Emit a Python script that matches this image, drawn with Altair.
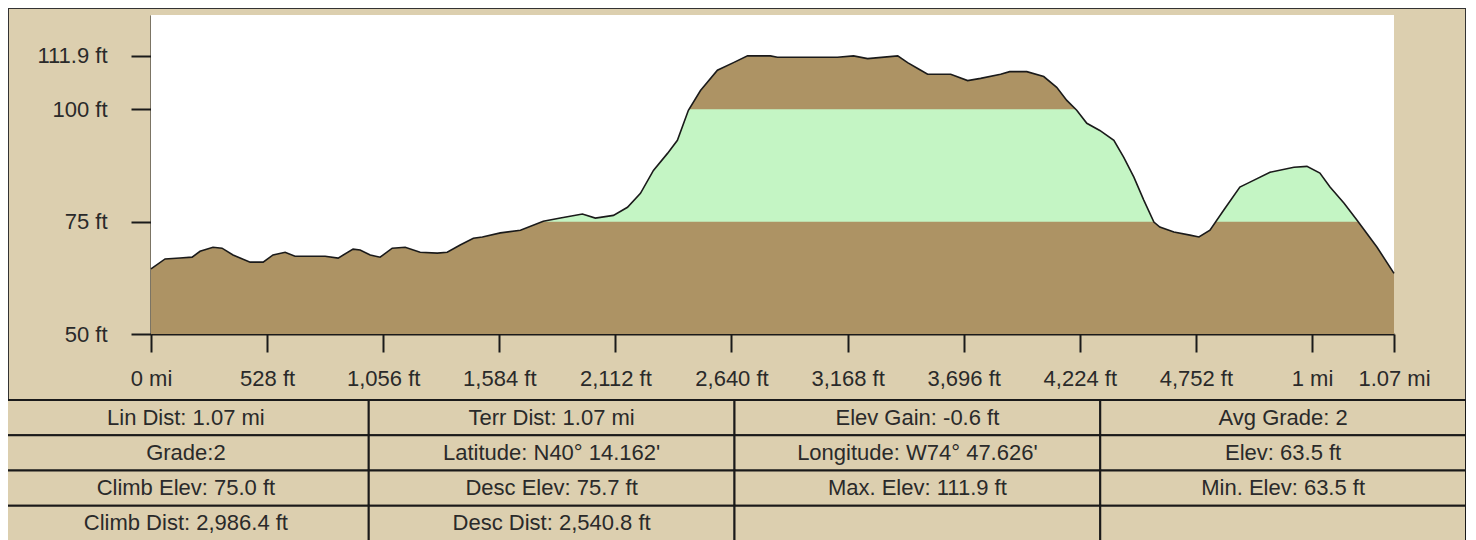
import altair as alt
import pandas as pd

# ---------------- data ----------------
DIST_FT = [0, 64, 132, 187, 223, 282, 323, 373, 451, 510, 555, 610, 655, 792, 851,
           919, 951, 997, 1042, 1097, 1156, 1224, 1302, 1347, 1406, 1466, 1507, 1589,
           1680, 1784, 1862, 1962, 2021, 2103, 2167, 2226, 2285, 2349, 2394, 2444, 2499,
           2576, 2649, 2713, 2817, 2849, 3122, 3195, 3259, 3396, 3441, 3487, 3532, 3637,
           3714, 3773, 3864, 3905, 3983, 4060, 4119, 4165, 4210, 4256, 4315, 4379, 4424,
           4470, 4515, 4561, 4588, 4652, 4725, 4766, 4816, 4879, 4952, 4998, 5089, 5198,
           5257, 5316, 5362, 5426, 5485, 5576, 5653]
ELEV_FT = [64.5, 66.7, 66.9, 67.1, 68.4, 69.3, 69.1, 67.6, 66.0, 66.0, 67.6, 68.2, 67.3,
           67.3, 66.9, 68.9, 68.7, 67.6, 67.1, 69.1, 69.3, 68.2, 68.0, 68.2, 69.8, 71.3,
           71.6, 72.5, 73.1, 75.1, 75.8, 76.7, 75.8, 76.4, 78.2, 81.3, 86.4, 90.2, 93.1,
           99.8, 104.2, 108.7, 110.4, 111.9, 111.9, 111.6, 111.6, 111.9, 111.3, 111.9,
           110.4, 109.1, 107.8, 107.8, 106.4, 106.9, 107.8, 108.4, 108.4, 107.3, 104.9,
           102.0, 99.8, 96.9, 95.3, 93.1, 89.3, 84.9, 79.8, 74.9, 73.8, 72.7, 72.0, 71.6,
           73.1, 77.6, 82.7, 83.8, 86.0, 87.1, 87.3, 85.8, 82.7, 79.1, 75.3, 69.3, 63.5]

X_TICKS = [0, 528, 1056, 1584, 2112, 2640, 3168, 3696, 4224, 4752, 5280, 5653]
X_LABELS = ["0 mi", "528 ft", "1,056 ft", "1,584 ft", "2,112 ft", "2,640 ft",
            "3,168 ft", "3,696 ft", "4,224 ft", "4,752 ft", "1 mi", "1.07 mi"]
Y_TICKS = [50, 75, 100, 111.9]
Y_LABELS = ["50 ft", "75 ft", "100 ft", "111.9 ft"]

Y_MIN, Y_TOP = 50, 121
BAND_LOW, BAND_HIGH = 75, 100

ROW_1 = ["Lin Dist: 1.07 mi", "Terr Dist: 1.07 mi", "Elev Gain: -0.6 ft", "Avg Grade: 2"]
ROW_2 = ["Grade:2", "Latitude: N40\u00b0 14.162'", "Longitude: W74\u00b0 47.626'", "Elev: 63.5 ft"]
ROW_3 = ["Climb Elev: 75.0 ft", "Desc Elev: 75.7 ft", "Max. Elev: 111.9 ft", "Min. Elev: 63.5 ft"]
ROW_4 = ["Climb Dist: 2,986.4 ft", "Desc Dist: 2,540.8 ft", "", ""]

# ---------------- styling ----------------
TAN = "#DCCFAF"
BROWN = "#AD9364"
GREEN = "#C4F5C4"
INK = "#1a1a1a"
TEXT = "#2a2a2a"
FONT = "Liberation Sans, Arial, sans-serif"

W, H = 1458, 532
PLOT_L, PLOT_R, PLOT_T, PLOT_B = 143, 1386, 7, 326


def lookup_expr(values, labels):
    expr = "''"
    for v, l in reversed(list(zip(values, labels))):
        expr = f"(abs(datum.value - {v}) < 0.01 ? '{l}' : {expr})"
    return expr


profile = pd.DataFrame({"dist": DIST_FT, "elev": ELEV_FT})

xs = alt.Scale(domain=[DIST_FT[0], DIST_FT[-1]], range=[PLOT_L, PLOT_R], nice=False, zero=False)
ys = alt.Scale(domain=[Y_MIN, Y_TOP], range=[PLOT_B, PLOT_T], nice=False, zero=False)

x_axis = alt.Axis(values=X_TICKS, labelExpr=lookup_expr(X_TICKS, X_LABELS), offset=PLOT_B - H,
                  tickSize=18, tickWidth=2, tickColor=INK, domainColor=INK, domainWidth=2,
                  labelFont=FONT, labelFontSize=22, labelColor=TEXT, labelPadding=16,
                  labelFlush=False, labelOverlap=False, grid=False, title=None)
y_axis = alt.Axis(values=Y_TICKS, labelExpr=lookup_expr(Y_TICKS, Y_LABELS), offset=-PLOT_L,
                  tickSize=20, tickWidth=2, tickColor=INK, domainColor=INK, domainWidth=2,
                  labelFont=FONT, labelFontSize=22, labelColor=TEXT, labelPadding=24,
                  labelFlush=False, labelOverlap=False, grid=False, title=None)

X_ENC = alt.X("dist:Q", scale=xs, axis=x_axis)

base = alt.Chart(profile)
ground = base.mark_area(color=BROWN, interpolate="linear").encode(
    x=X_ENC, y=alt.Y("elev:Q", scale=ys, axis=y_axis), y2=alt.datum(Y_MIN))
band = base.mark_area(color=GREEN, interpolate="linear").encode(
    x=X_ENC, y=alt.Y(datum=BAND_HIGH, scale=ys, axis=y_axis), y2=alt.datum(BAND_LOW))
sky = base.mark_area(color="white", interpolate="linear").encode(
    x=X_ENC, y=alt.Y("elev:Q", scale=ys, axis=y_axis), y2=alt.datum(Y_TOP))
outline = base.mark_line(color=INK, strokeWidth=1.6, interpolate="linear").encode(
    x=X_ENC, y=alt.Y("elev:Q", scale=ys, axis=y_axis))

profile_layer = alt.layer(ground, band, sky, outline)

rows = []
for r, row in enumerate([ROW_1, ROW_2, ROW_3, ROW_4]):
    for c, txt in enumerate(row):
        rows.append({"row": r, "col": c, "txt": txt})
table_df = pd.DataFrame(rows)

tx = alt.X("col:O", scale=alt.Scale(range=[-5, W], paddingInner=0, paddingOuter=0), axis=None)
ty = alt.Y("row:O", scale=alt.Scale(range=[392, 533], paddingInner=0, paddingOuter=0), axis=None)
tbase = alt.Chart(table_df)
cells = tbase.mark_rect(fill=TAN, stroke=INK, strokeWidth=2).encode(x=tx, y=ty)
texts = tbase.mark_text(font=FONT, fontSize=22, color=TEXT, align="center", baseline="middle").encode(
    x=tx, y=ty, text="txt:N")
table_layer = alt.layer(cells, texts)

chart = (
    alt.layer(profile_layer, table_layer)
    .resolve_scale(x="independent", y="independent")
    .properties(width=W, height=H, autosize=alt.AutoSizeParams(type="none"), padding=0,
                background=TAN)
    .configure_view(stroke="#333333", strokeWidth=2)
)

chart.save("out.html", embed_options={"renderer": "svg", "actions": False})
